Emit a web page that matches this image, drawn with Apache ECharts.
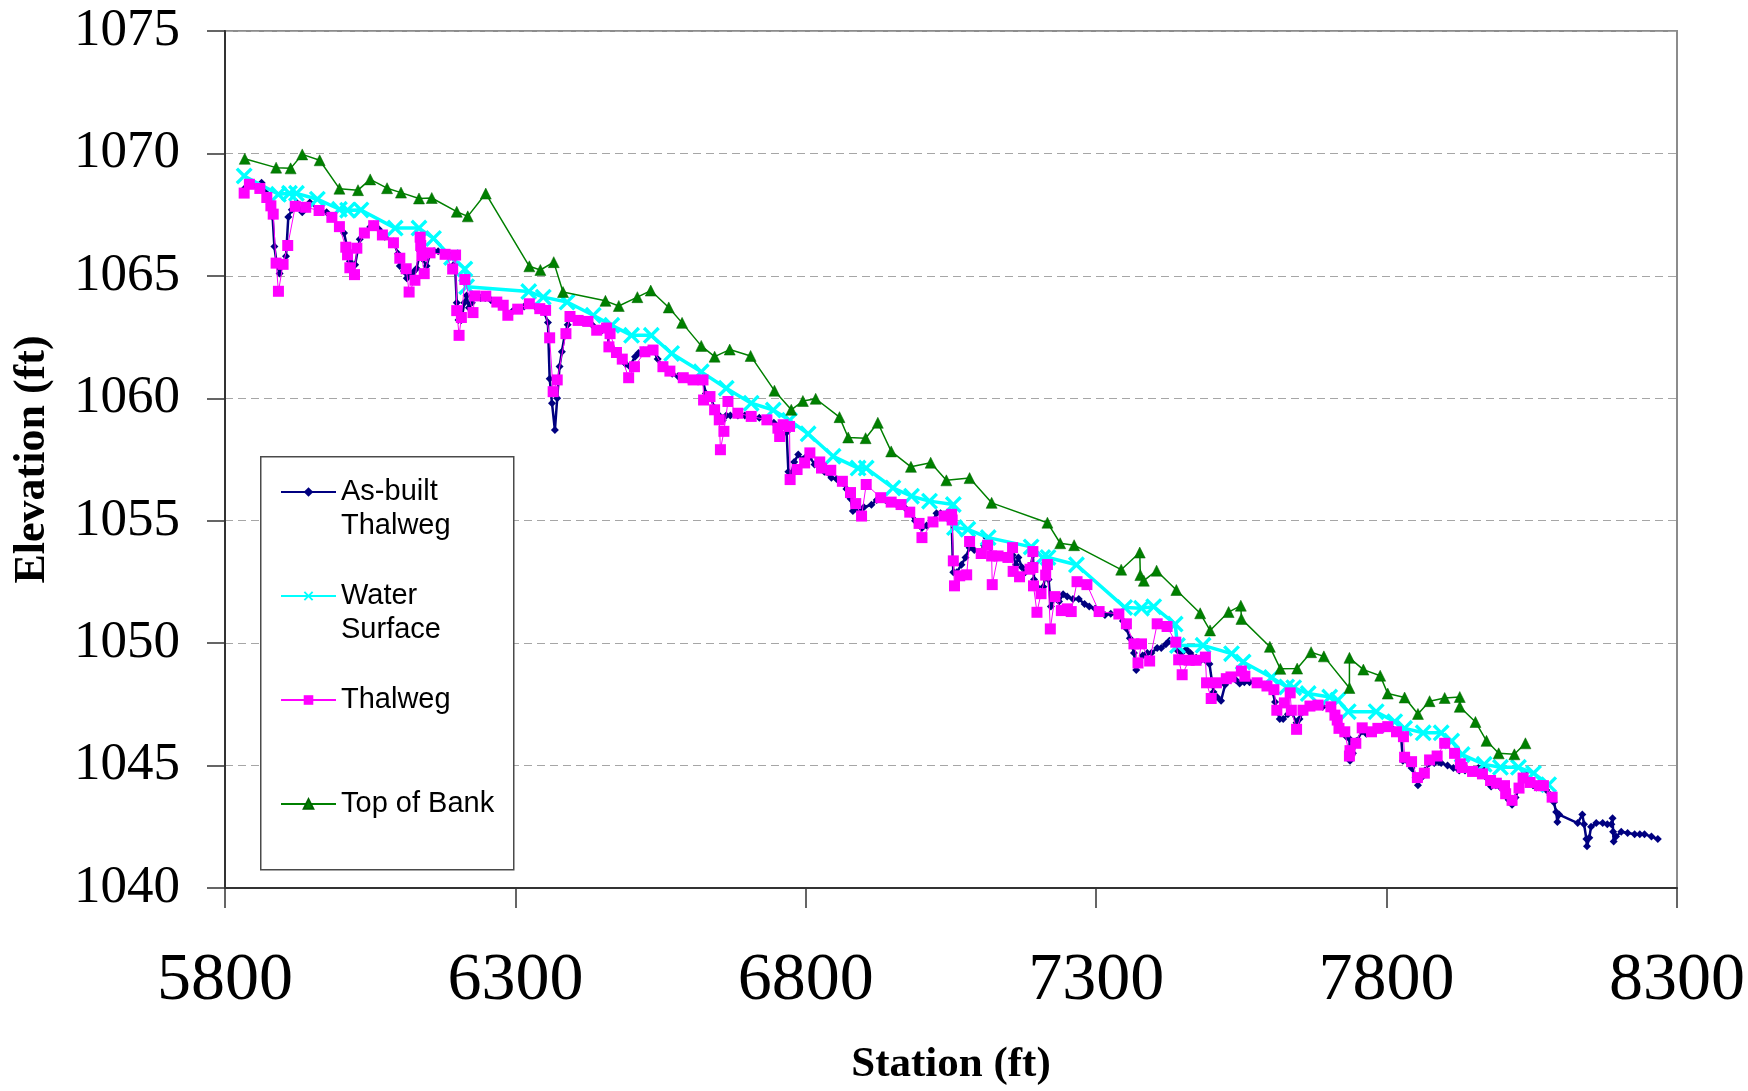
<!DOCTYPE html>
<html><head><meta charset="utf-8">
<script src="https://cdn.jsdelivr.net/npm/echarts@6/dist/echarts.min.js"></script>
<style>html,body{margin:0;padding:0;background:#fff}#c{width:1748px;height:1091px}</style>
</head><body><div id="c"></div>
<script>
const xTicks = [5800, 6300, 6800, 7300, 7800, 8300];
const yTicks = [1040, 1045, 1050, 1055, 1060, 1065, 1070, 1075];
const seriesNames = ['As-built Thalweg', 'Water Surface', 'Thalweg', 'Top of Bank'];
const legendLabels = [' \nAs-built\nThalweg', ' \nWater\nSurface', ' \nThalweg\n ', ' \nTop of Bank\n '];

const asBuiltThalweg = [[5835,1068.6],[5842,1068.8],[5852,1068.7],[5863,1068.8],[5870,1068.4],[5877,1067.9],[5882,1067.4],[5885,1066.2],[5889,1065.5],[5894,1065.1],[5900,1065.5],[5905,1065.8],[5909,1067.4],[5915,1067.7],[5923,1068.0],[5933,1067.6],[5946,1068.0],[5962,1067.7],[5975,1067.6],[5984,1067.4],[5997,1067.0],[6005,1066.75],[6010,1066.2],[6015,1065.6],[6024,1065.45],[6032,1066.5],[6040,1066.8],[6050,1067.0],[6056,1067.1],[6065,1066.9],[6075,1066.6],[6090,1066.4],[6098,1065.9],[6101,1065.4],[6108,1065.2],[6113,1064.9],[6118,1065.1],[6124,1065.15],[6130,1065.3],[6136,1066.0],[6140,1065.7],[6147,1065.4],[6153,1065.9],[6160,1066.0],[6167,1066.0],[6179,1065.9],[6190,1065.85],[6196,1065.5],[6199,1063.9],[6202,1063.2],[6207,1063.2],[6212,1063.9],[6216,1064.2],[6220,1063.7],[6225,1063.9],[6230,1064.2],[6240,1064.1],[6248,1064.1],[6258,1064.0],[6268,1063.9],[6279,1063.8],[6287,1063.45],[6295,1063.55],[6305,1063.65],[6315,1063.75],[6324,1063.85],[6334,1063.75],[6342,1063.65],[6350,1063.5],[6356,1063.1],[6359,1060.8],[6363,1059.8],[6368,1058.7],[6372,1060.0],[6376,1061.3],[6380,1061.9],[6385,1062.6],[6390,1063.0],[6394,1063.3],[6400,1063.25],[6408,1063.2],[6416,1063.1],[6425,1063.1],[6432,1063.0],[6440,1062.8],[6448,1062.75],[6457,1062.85],[6461,1062.2],[6468,1062.0],[6474,1061.9],[6480,1061.7],[6486,1061.5],[6490,1061.4],[6497,1061.3],[6506,1061.7],[6512,1061.85],[6520,1061.95],[6530,1062.0],[6537,1062.0],[6545,1061.6],[6554,1061.3],[6562,1061.2],[6570,1061.0],[6580,1060.9],[6589,1060.85],[6598,1060.75],[6606,1060.75],[6615,1060.75],[6623,1060.7],[6628,1060.2],[6635,1060.1],[6643,1059.6],[6651,1059.3],[6657,1059.1],[6663,1059.3],[6670,1059.3],[6683,1059.3],[6695,1059.3],[6706,1059.25],[6720,1059.2],[6733,1059.1],[6745,1059.0],[6752,1058.8],[6760,1058.9],[6767,1058.6],[6770,1057.0],[6775,1056.9],[6780,1057.4],[6787,1057.7],[6795,1057.5],[6800,1057.6],[6807,1057.6],[6815,1057.3],[6824,1057.2],[6832,1057.0],[6844,1056.75],[6853,1056.7],[6863,1056.55],[6870,1056.3],[6877,1055.9],[6881,1055.4],[6886,1055.5],[6893,1055.4],[6900,1055.55],[6913,1055.65],[6922,1055.85],[6929,1055.9],[6937,1055.85],[6947,1055.75],[6955,1055.7],[6964,1055.6],[6972,1055.5],[6979,1055.3],[6988,1055.0],[6995,1054.85],[7000,1054.7],[7008,1054.8],[7019,1055.0],[7025,1055.3],[7032,1055.3],[7038,1055.25],[7046,1055.3],[7051,1055.1],[7053,1053.4],[7054,1052.9],[7060,1052.9],[7068,1053.2],[7075,1053.5],[7082,1053.9],[7090,1053.8],[7100,1053.7],[7107,1054.0],[7111,1054.3],[7116,1054.0],[7120,1053.6],[7125,1053.5],[7131,1053.6],[7140,1053.5],[7148,1053.45],[7156,1053.6],[7162,1053.2],[7166,1053.5],[7172,1053.1],[7178,1052.9],[7186,1053.0],[7191,1053.6],[7193,1052.6],[7198,1052.3],[7204,1052.0],[7209,1052.3],[7214,1053.0],[7218,1052.6],[7222,1051.5],[7229,1051.9],[7236,1051.7],[7243,1052.0],[7250,1051.9],[7260,1051.8],[7270,1051.8],[7280,1051.6],[7288,1051.5],[7298,1051.4],[7305,1051.25],[7315,1051.15],[7325,1051.2],[7339,1051.15],[7346,1050.9],[7352,1050.6],[7358,1050.2],[7365,1049.6],[7369,1048.9],[7374,1049.2],[7380,1049.5],[7388,1049.6],[7395,1049.6],[7405,1049.8],[7412,1049.8],[7420,1049.95],[7426,1050.1],[7433,1050.0],[7440,1049.7],[7447,1049.6],[7455,1049.75],[7462,1049.6],[7472,1049.4],[7480,1049.3],[7488,1049.3],[7495,1049.15],[7502,1048.0],[7508,1047.8],[7515,1047.65],[7522,1048.3],[7530,1048.5],[7540,1048.5],[7547,1048.35],[7555,1048.4],[7564,1048.4],[7572,1048.4],[7580,1048.4],[7590,1048.3],[7598,1048.2],[7604,1048.0],[7608,1047.6],[7612,1047.2],[7616,1046.9],[7622,1046.9],[7630,1047.1],[7636,1047.2],[7645,1046.75],[7650,1046.9],[7656,1047.2],[7662,1047.35],[7670,1047.4],[7680,1047.45],[7690,1047.4],[7700,1047.4],[7708,1047.2],[7714,1046.9],[7718,1046.6],[7724,1046.4],[7730,1046.2],[7736,1046.1],[7737,1045.2],[7742,1045.5],[7748,1046.0],[7758,1046.4],[7765,1046.3],[7774,1046.35],[7785,1046.5],[7795,1046.5],[7802,1046.6],[7810,1046.5],[7817,1046.35],[7825,1046.2],[7828,1045.2],[7835,1045.2],[7843,1044.9],[7850,1044.5],[7854,1044.2],[7860,1044.5],[7866,1044.8],[7874,1045.1],[7882,1045.1],[7890,1045.15],[7894,1045.1],[7905,1045.0],[7915,1044.9],[7925,1044.8],[7935,1044.8],[7948,1044.8],[7958,1044.9],[7966,1044.95],[7972,1044.5],[7980,1044.15],[7988,1044.2],[7996,1044.1],[8005,1043.8],[8010,1043.6],[8016,1043.4],[8022,1043.7],[8030,1044.2],[8038,1044.7],[8046,1044.4],[8052,1044.2],[8058,1044.1],[8066,1044.1],[8075,1044.0],[8082,1043.8],[8088,1043.5],[8092,1043.1],[8094,1042.7],[8097,1043.0],[8129,1042.65],[8137,1043.0],[8140,1042.6],[8144,1042.0],[8145,1041.7],[8149,1042.05],[8152,1042.5],[8161,1042.65],[8172,1042.65],[8180,1042.6],[8187,1042.6],[8189,1042.85],[8190,1042.3],[8191,1041.9],[8195,1042.1],[8204,1042.3],[8215,1042.25],[8227,1042.2],[8236,1042.2],[8244,1042.2],[8256,1042.1],[8267,1042.0]];

const waterSurface = [[5833,1069.08],[5892,1068.33],[5911,1068.37],[5923,1068.37],[5959,1068.13],[5997,1067.72],[6011,1067.68],[6034,1067.69],[6093,1066.95],[6134,1066.95],[6159,1066.53],[6190,1065.75],[6213,1065.28],[6216,1064.56],[6323,1064.36],[6348,1064.13],[6389,1063.93],[6434,1063.39],[6466,1062.98],[6500,1062.57],[6534,1062.57],[6569,1061.83],[6620,1061.08],[6663,1060.41],[6706,1059.8],[6744,1059.52],[6772,1059.1],[6804,1058.55],[6847,1057.63],[6890,1057.15],[6904,1057.15],[6950,1056.34],[6982,1056.0],[7013,1055.8],[7054,1055.66],[7056,1054.72],[7079,1054.65],[7114,1054.31],[7188,1053.93],[7208,1053.5],[7217,1053.5],[7266,1053.2],[7349,1051.46],[7378,1051.43],[7399,1051.49],[7436,1050.78],[7440,1049.9],[7484,1049.91],[7533,1049.57],[7553,1049.23],[7602,1048.6],[7628,1048.21],[7640,1048.18],[7665,1047.94],[7702,1047.8],[7716,1047.67],[7734,1047.2],[7782,1047.2],[7814,1046.79],[7831,1046.52],[7863,1046.34],[7894,1046.34],[7912,1046.0],[7930,1045.45],[7968,1045.05],[7996,1044.93],[8027,1044.93],[8053,1044.69],[8079,1044.22]];

const thalweg = [[5833,1068.38],[5842,1068.74],[5860,1068.57],[5872,1068.2],[5879,1067.86],[5883,1067.52],[5888,1065.52],[5892,1064.37],[5900,1065.47],[5908,1066.24],[5921,1067.84],[5939,1067.8],[5962,1067.67],[5984,1067.39],[5997,1067.01],[6008,1066.17],[6011,1065.86],[6015,1065.33],[6023,1065.05],[6027,1066.13],[6040,1066.75],[6056,1067.05],[6071,1066.67],[6090,1066.35],[6101,1065.72],[6112,1065.29],[6117,1064.34],[6127,1064.82],[6136,1066.58],[6137,1066.24],[6139,1065.83],[6143,1065.09],[6153,1065.94],[6179,1065.88],[6192,1065.28],[6197,1065.85],[6199,1063.58],[6203,1062.57],[6207,1063.3],[6213,1064.85],[6227,1063.5],[6230,1064.18],[6249,1064.17],[6268,1063.93],[6279,1063.8],[6287,1063.39],[6304,1063.64],[6324,1063.86],[6342,1063.66],[6352,1063.59],[6359,1062.47],[6365,1060.27],[6372,1060.75],[6387,1062.64],[6394,1063.34],[6408,1063.18],[6425,1063.14],[6440,1062.78],[6457,1062.87],[6461,1062.1],[6463,1062.64],[6474,1061.87],[6484,1061.6],[6495,1060.84],[6505,1061.29],[6523,1061.9],[6537,1061.97],[6554,1061.29],[6566,1061.11],[6589,1060.84],[6606,1060.75],[6623,1060.75],[6624,1059.93],[6635,1060.07],[6643,1059.53],[6651,1059.12],[6653,1057.9],[6659,1058.65],[6666,1059.87],[6683,1059.39],[6706,1059.26],[6733,1059.12],[6752,1058.78],[6755,1058.44],[6761,1058.92],[6772,1058.85],[6773,1056.68],[6785,1057.09],[6798,1057.36],[6807,1057.77],[6824,1057.4],[6827,1057.15],[6843,1057.06],[6863,1056.61],[6877,1056.15],[6886,1055.7],[6896,1055.19],[6904,1056.48],[6929,1055.94],[6947,1055.76],[6964,1055.66],[6979,1055.35],[6995,1054.89],[7000,1054.31],[7019,1054.95],[7038,1055.19],[7051,1055.26],[7052,1055.03],[7054,1053.36],[7056,1052.34],[7065,1052.75],[7077,1052.79],[7082,1054.15],[7102,1053.66],[7113,1054.0],[7120,1053.56],[7121,1052.39],[7131,1053.56],[7148,1053.5],[7156,1053.9],[7157,1052.93],[7168,1052.71],[7186,1053.02],[7191,1053.74],[7191,1053.09],[7192,1052.34],[7198,1051.26],[7205,1052.02],[7213,1052.78],[7216,1053.21],[7221,1050.58],[7229,1051.9],[7240,1051.33],[7250,1051.4],[7257,1051.29],[7267,1052.51],[7284,1052.39],[7305,1051.29],[7339,1051.19],[7352,1050.79],[7365,1049.97],[7372,1049.19],[7378,1049.97],[7392,1049.27],[7405,1050.79],[7422,1050.68],[7437,1050.04],[7442,1049.32],[7448,1048.71],[7460,1049.3],[7472,1049.3],[7488,1049.43],[7490,1048.38],[7498,1047.74],[7507,1048.38],[7524,1048.55],[7532,1048.62],[7550,1048.86],[7556,1048.65],[7577,1048.38],[7594,1048.25],[7606,1048.1],[7611,1047.26],[7624,1047.56],[7634,1047.97],[7636,1047.26],[7645,1046.48],[7656,1047.26],[7668,1047.43],[7682,1047.47],[7704,1047.4],[7711,1047.06],[7715,1046.86],[7718,1046.52],[7728,1046.38],[7736,1045.39],[7737,1045.61],[7747,1045.91],[7758,1046.54],[7774,1046.38],[7785,1046.52],[7802,1046.59],[7817,1046.38],[7829,1046.18],[7831,1045.34],[7843,1045.16],[7853,1044.51],[7865,1044.69],[7874,1045.23],[7887,1045.39],[7900,1045.91],[7917,1045.5],[7927,1045.07],[7930,1044.92],[7948,1044.76],[7965,1044.66],[7979,1044.39],[7989,1044.28],[8003,1044.18],[8005,1043.85],[8016,1043.58],[8028,1044.08],[8035,1044.49],[8047,1044.31],[8063,1044.18],[8070,1044.18],[8085,1043.71]];

const topOfBank = [[5834,1069.78],[5888,1069.42],[5913,1069.39],[5933,1069.96],[5963,1069.72],[5997,1068.56],[6029,1068.5],[6050,1068.94],[6079,1068.58],[6103,1068.4],[6134,1068.16],[6156,1068.18],[6199,1067.62],[6218,1067.43],[6249,1068.36],[6324,1065.39],[6343,1065.24],[6366,1065.56],[6382,1064.34],[6455,1063.98],[6478,1063.77],[6510,1064.13],[6533,1064.4],[6564,1063.71],[6587,1063.08],[6620,1062.14],[6643,1061.7],[6669,1061.99],[6705,1061.73],[6746,1060.31],[6775,1059.53],[6795,1059.89],[6817,1059.98],[6858,1059.23],[6873,1058.4],[6903,1058.37],[6924,1059.0],[6947,1057.83],[6981,1057.2],[7015,1057.37],[7042,1056.65],[7082,1056.74],[7120,1055.73],[7216,1054.92],[7238,1054.08],[7262,1054.0],[7343,1053.0],[7375,1053.7],[7376,1052.78],[7382,1052.55],[7404,1052.96],[7438,1052.17],[7479,1051.22],[7496,1050.52],[7528,1051.27],[7549,1051.53],[7550,1050.99],[7599,1049.85],[7617,1048.95],[7646,1048.96],[7670,1049.63],[7692,1049.46],[7736,1048.17],[7736,1049.40],[7760,1048.92],[7789,1048.67],[7802,1047.94],[7831,1047.78],[7854,1047.11],[7874,1047.63],[7900,1047.76],[7926,1047.8],[7926,1047.4],[7953,1046.78],[7972,1046.01],[7993,1045.5],[8020,1045.46],[8039,1045.91]];

const xSymbol = 'path://M0,1.4 L1.4,0 L5,3.6 L8.6,0 L10,1.4 L6.4,5 L10,8.6 L8.6,10 L5,6.4 L1.4,10 L0,8.6 L3.6,5 Z';
const chart = echarts.init(document.getElementById('c'), null, {renderer: 'canvas'});
const serif = 'Liberation Serif, Times New Roman, serif';
const sans = 'Liberation Sans, Arial, sans-serif';
const plain = function (v) { return String(v); };

chart.setOption({
  backgroundColor: '#ffffff',
  animation: false,
  grid: {left: 225, right: 70, top: 31, bottom: 199, show: true, borderColor: '#8c8c8c', borderWidth: 2, backgroundColor: 'transparent'},
  graphic: [{type: 'rect', left: 260, top: 456, z: 3, shape: {width: 253, height: 413}, style: {fill: '#ffffff', stroke: '#4a4a4a', lineWidth: 1.5}}],
  legend: {
    orient: 'vertical', left: 280, top: 441, padding: 0, itemGap: 2, itemWidth: 55, itemHeight: 12,
    data: seriesNames,
    formatter: function (n) { return legendLabels[seriesNames.indexOf(n)]; },
    textStyle: {fontFamily: sans, fontSize: 29, lineHeight: 34, color: '#000'},
    selectedMode: false
  },
  xAxis: {
    type: 'value', min: xTicks[0], max: xTicks[xTicks.length - 1], interval: xTicks[1] - xTicks[0],
    name: 'Station (ft)', nameLocation: 'middle', nameGap: 155,
    nameTextStyle: {fontFamily: serif, fontSize: 43, fontWeight: 'bold', color: '#000'},
    axisLine: {show: true, onZero: false, lineStyle: {color: '#333', width: 2}},
    axisTick: {show: true, inside: false, length: 20, lineStyle: {color: '#333', width: 1.5}},
    axisLabel: {fontFamily: serif, fontSize: 68, color: '#000', margin: 59, formatter: plain, showMinLabel: true, showMaxLabel: true},
    splitLine: {show: false}
  },
  yAxis: {
    type: 'value', min: yTicks[0], max: yTicks[yTicks.length - 1], interval: yTicks[1] - yTicks[0],
    name: 'Elevation (ft)', nameLocation: 'middle', nameGap: 170, nameRotate: 90,
    nameTextStyle: {fontFamily: serif, fontSize: 44, fontWeight: 'bold', color: '#000'},
    axisLine: {show: true, onZero: false, lineStyle: {color: '#333', width: 2}},
    axisTick: {show: true, inside: false, length: 18, lineStyle: {color: '#333', width: 1.5}},
    axisLabel: {fontFamily: serif, fontSize: 53, color: '#000', margin: 45, formatter: plain},
    splitLine: {show: true, lineStyle: {color: '#a6a6a6', width: 1, type: [8, 5]}}
  },
  series: [
    {name: seriesNames[0], type: 'line', data: asBuiltThalweg, symbol: 'diamond', symbolSize: 8,
     lineStyle: {color: '#000080', width: 2.5}, itemStyle: {color: '#000080'}, z: 2},
    {name: seriesNames[1], type: 'line', data: waterSurface, symbol: xSymbol, symbolSize: 17,
     lineStyle: {color: '#00ffff', width: 3.5}, itemStyle: {color: '#00ffff'}, z: 3},
    {name: seriesNames[2], type: 'line', data: thalweg, symbol: 'rect', symbolSize: 11,
     lineStyle: {color: '#ff00ff', width: 1}, itemStyle: {color: '#ff00ff'}, z: 4},
    {name: seriesNames[3], type: 'line', data: topOfBank, symbol: 'triangle', symbolSize: 11,
     lineStyle: {color: '#008000', width: 1.5}, itemStyle: {color: '#008000', borderColor: '#006400', borderWidth: 0.5}, z: 5}
  ]
});
</script></body></html>
